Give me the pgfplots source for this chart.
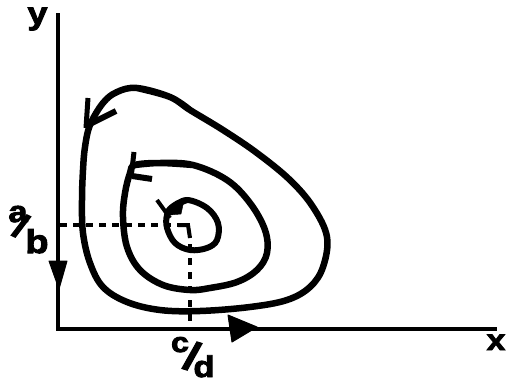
\documentclass[border=0pt]{standalone}
\usepackage{pgfplots}
\pgfplotsset{compat=1.18}
\usepackage{fontspec}
\setmainfont{Liberation Sans}
\newfontfamily\heavy[BoldFeatures={FakeBold=3,FakeStretch=1.15}]{Liberation Sans}
\begin{document}
\begin{tikzpicture}
\begin{axis}[
  width=506pt, height=383pt, scale only axis,
  xmin=0, xmax=506, ymin=0, ymax=383, y dir=reverse,
  hide axis, clip=false,
]
% bounding
\addplot[draw=none] coordinates {(0,0) (506,383)};
% axes
\addplot[black, line width=4pt] coordinates {(58,13) (58,329) (497,329)};
% axis arrow heads
\addplot[black, fill=black, line width=1pt, line join=round] coordinates {(49,261) (67,261) (59,289)} -- cycle;
\addplot[black, fill=black, line width=1pt, line join=round] coordinates {(228,315) (257,327) (232,342)} -- cycle;
% dashed guides
\addplot[black, line width=4pt, dash pattern=on 7pt off 6pt] coordinates {(60,225) (178,225)};
\addplot[black, line width=4pt, dash pattern=on 7pt off 7pt] coordinates {(190,244) (190,329)};
% outer orbit
\addplot[black, line width=6.5pt, smooth, tension=0.6] coordinates {
 (137,88) (170,97) (190,110) (223,130) (257,153) (290,180) (313,207) (327,237)
 (323,267) (310,287) (287,300) (250,307) (200,311) (160,310) (127,302) (103,287)
 (90,263) (83,233) (82,200) (83,170) (85,147) (90,125) (103,103) (117,92) (137,88) (170,97) (190,110)};
\addplot[black, line width=5pt] coordinates {(88,98) (86,128)};
\addplot[black, line width=6pt] coordinates {(116,111) (90,124)};
% middle orbit
\addplot[black, line width=6.5pt, smooth, tension=0.6] coordinates {
 (135,165) (160,163) (193,165) (227,180) (250,203) (265,230) (267,253) (257,270) (237,282)
 (210,288) (190,290) (163,285) (140,270) (127,247) (123,217) (125,193) (130,173) (135,165) (160,163) (193,165)};
\addplot[black, line width=5pt] coordinates {(134,152) (131,178)};
\addplot[black, line width=6pt] coordinates {(132,176) (152,179)};
% inner orbit
\addplot[black, line width=6pt, smooth, tension=0.6] coordinates {
 (172,207) (187,200) (207,208) (218,223) (217,240) (207,248) (190,250) (175,243) (167,228) (167,215) (172,207) (187,200)};
\addplot[black, line width=4pt] coordinates {(157,200) (170,218)};
\addplot[black, line width=4pt] coordinates {(178,225) (188,225) (190,238)};
\addplot[black, fill=black] coordinates {(170,206) (183,205) (181,214) (170,215)} -- cycle;
% labels
\node[font=\heavy\fontsize{31}{31}\selectfont\bfseries, inner sep=0pt, anchor=base] at (axis cs:37.5,24) {y};
\node[font=\heavy\fontsize{29}{29}\selectfont\bfseries, inner sep=0pt, anchor=base] at (axis cs:496,350) {x};
\node[font=\heavy\fontsize{30}{30}\selectfont\bfseries, inner sep=0pt, anchor=base] at (axis cs:18,222) {a};
\node[font=\heavy\fontsize{34}{34}\selectfont\bfseries, inner sep=0pt, rotate=-25] at (axis cs:21,226) {/};
\node[font=\heavy\fontsize{33}{33}\selectfont\bfseries, inner sep=0pt, anchor=base] at (axis cs:37,253) {b};
\node[font=\heavy\fontsize{28}{28}\selectfont\bfseries, inner sep=0pt, anchor=base] at (axis cs:180,352) {c};
\node[font=\heavy\fontsize{40}{40}\selectfont\bfseries, inner sep=0pt, rotate=-17] at (axis cs:192,356) {/};
\node[font=\heavy\fontsize{30}{30}\selectfont\bfseries, inner sep=0pt, anchor=base] at (axis cs:204,377) {d};
\end{axis}
\end{tikzpicture}
\end{document}
